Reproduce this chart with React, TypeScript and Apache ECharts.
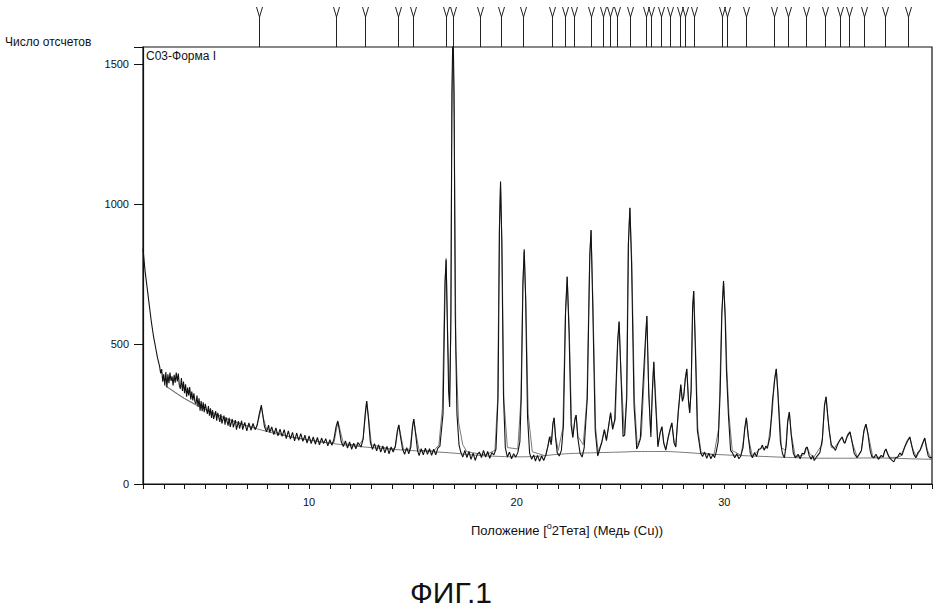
import React, { useEffect, useRef } from "react";
import * as echarts from "echarts";

const reflections = [7.61, 11.3, 12.7, 14.28, 15.0, 16.58, 16.92, 18.21, 19.22, 20.32, 21.71, 22.34, 22.77, 23.58, 24.16, 24.49, 24.83, 25.45, 26.22, 26.46, 26.94, 27.37, 27.85, 28.09, 28.52, 29.91, 30.11, 31.02, 32.41, 33.08, 33.94, 34.85, 35.57, 36.01, 36.72, 37.73, 38.83];

const background = [[3.1,350],[4,305],[5,266],[6,234],[7,208],[8,187],[9,170],[10,157],[11,146],[12,137],[13,130],[14,124],[15,119],[16,115],[17,110],[18,103],[19,99],[20,97],[21,99],[22,106],[23,110],[24,112],[25,114],[26,116],[27,116],[28,113],[29,108],[30,104],[31,101],[32,98],[33,95],[34,93],[35,92],[36,92],[37,93],[38,92],[39,90],[40,88]];

const calculated = [[3.1,350],[4,305],[5,266],[6,234],[7,208],[7.45,200],[7.6,240],[7.7,275],[7.8,235],[7.95,196],[9,170],[10,157],[11,146],[11.2,148],[11.33,200],[11.4,222],[11.5,190],[11.65,144],[12.4,138],[12.6,160],[12.72,250],[12.78,295],[12.86,240],[13.0,140],[14,124],[14.15,130],[14.27,190],[14.32,210],[14.4,180],[14.55,123],[14.85,124],[14.98,200],[15.04,232],[15.12,190],[15.3,120],[16.0,118],[16.25,140],[16.42,270],[16.53,700],[16.6,805],[16.68,520],[16.76,300],[16.82,520],[16.87,1300],[16.93,1600],[16.99,1300],[17.07,480],[17.2,220],[17.4,140],[17.6,115],[18.5,104],[18.95,120],[19.08,300],[19.16,900],[19.22,1075],[19.29,850],[19.38,300],[19.55,130],[20.05,125],[20.2,300],[20.29,700],[20.36,830],[20.44,650],[20.55,250],[20.75,115],[21.4,100],[21.55,150],[21.62,170],[21.68,150],[21.75,220],[21.8,236],[21.87,170],[22.0,120],[22.22,200],[22.34,600],[22.43,740],[22.53,550],[22.64,220],[22.7,170],[22.82,240],[22.86,246],[22.95,170],[23.2,140],[23.38,300],[23.51,800],[23.58,905],[23.67,650],[23.8,200],[23.92,115],[24.1,150],[24.22,195],[24.32,160],[24.42,200],[24.52,255],[24.62,200],[24.75,230],[24.86,500],[24.93,580],[25.02,400],[25.18,180],[25.28,300],[25.37,850],[25.45,985],[25.54,800],[25.67,300],[25.8,140],[26.0,170],[26.15,400],[26.26,600],[26.36,330],[26.45,190],[26.6,435],[26.7,300],[26.8,140],[26.92,190],[27.0,205],[27.08,150],[27.18,125],[27.35,180],[27.47,218],[27.58,150],[27.66,135],[27.78,250],[27.9,355],[27.98,300],[28.04,312],[28.12,380],[28.19,410],[28.27,300],[28.33,255],[28.4,330],[28.47,620],[28.53,688],[28.61,500],[28.72,200],[28.88,112],[29.5,104],[29.73,200],[29.87,600],[29.96,725],[30.05,600],[30.12,410],[30.22,250],[30.38,120],[30.8,102],[30.95,170],[31.06,236],[31.17,160],[31.35,100],[31.8,130],[31.95,125],[32.1,140],[32.3,250],[32.42,380],[32.5,410],[32.58,330],[32.75,130],[32.95,120],[33.05,230],[33.13,257],[33.22,180],[33.42,96],[33.85,105],[33.98,132],[34.1,110],[34.3,95],[34.7,140],[34.84,290],[34.9,311],[34.98,240],[35.15,130],[35.3,128],[35.5,150],[35.67,168],[35.79,145],[35.95,180],[36.05,186],[36.15,150],[36.4,96],[36.6,120],[36.75,200],[36.82,214],[36.92,180],[37.15,96],[37.6,95],[37.78,125],[37.95,95],[38.3,95],[38.5,100],[38.8,155],[38.93,168],[39.05,130],[39.25,95],[39.5,130],[39.65,164],[39.78,120],[39.95,93]];

const observed = [[2.0,840],[2.05,800],[2.1,760],[2.2,700],[2.3,640],[2.4,580],[2.5,530],[2.6,490],[2.7,450],[2.8,420],[2.85,395],[2.9,410],[2.95,365],[3.0,392],[3.05,352],[3.1,400],[3.15,345],[3.2,392],[3.25,360],[3.3,398],[3.35,368],[3.4,384],[3.45,352],[3.5,390],[3.55,362],[3.6,398],[3.65,366],[3.7,394],[3.75,352],[3.8,340],[3.85,378],[3.9,332],[3.95,366],[4.0,324],[4.05,356],[4.1,312],[4.15,344],[4.2,316],[4.25,346],[4.3,302],[4.35,330],[4.4,298],[4.45,324],[4.5,294],[4.55,286],[4.6,316],[4.65,276],[4.7,306],[4.75,262],[4.8,296],[4.85,260],[4.9,292],[4.95,256],[5.0,286],[5.1,250],[5.15,278],[5.2,244],[5.25,270],[5.3,236],[5.35,264],[5.4,232],[5.5,260],[5.55,226],[5.6,254],[5.7,222],[5.75,250],[5.8,216],[5.9,244],[5.95,212],[6.0,238],[6.1,208],[6.15,236],[6.2,204],[6.3,232],[6.35,202],[6.45,228],[6.5,194],[6.6,224],[6.65,198],[6.75,226],[6.8,194],[6.9,220],[7.0,190],[7.1,218],[7.2,192],[7.3,216],[7.4,194],[7.5,210],[7.6,250],[7.7,282],[7.78,240],[7.85,205],[7.95,186],[8.05,210],[8.1,184],[8.2,204],[8.3,176],[8.4,200],[8.5,172],[8.6,196],[8.7,170],[8.8,194],[8.9,162],[9.0,190],[9.1,160],[9.2,184],[9.3,154],[9.4,182],[9.5,156],[9.6,180],[9.7,152],[9.8,174],[9.9,146],[10.0,172],[10.1,144],[10.2,168],[10.3,142],[10.4,166],[10.5,140],[10.6,164],[10.7,144],[10.8,162],[10.9,136],[11.0,158],[11.1,138],[11.2,162],[11.3,205],[11.38,225],[11.45,195],[11.55,150],[11.65,134],[11.75,154],[11.85,128],[11.95,150],[12.05,124],[12.15,146],[12.25,126],[12.35,148],[12.5,132],[12.6,160],[12.7,250],[12.77,296],[12.85,240],[12.95,150],[13.05,124],[13.15,144],[13.25,118],[13.35,140],[13.45,114],[13.55,136],[13.65,111],[13.75,134],[13.85,108],[13.95,132],[14.05,114],[14.15,134],[14.25,190],[14.32,211],[14.4,170],[14.5,125],[14.6,106],[14.7,130],[14.8,108],[14.9,132],[14.98,205],[15.04,232],[15.12,185],[15.22,120],[15.3,101],[15.4,126],[15.5,104],[15.6,128],[15.7,106],[15.8,126],[15.9,102],[16.0,124],[16.1,104],[16.2,128],[16.3,135],[16.45,250],[16.55,720],[16.6,800],[16.65,600],[16.72,330],[16.77,275],[16.83,600],[16.88,1400],[16.93,1650],[16.98,1400],[17.04,600],[17.12,250],[17.22,140],[17.3,115],[17.4,96],[17.5,120],[17.6,94],[17.7,116],[17.8,88],[17.9,110],[18.0,84],[18.1,106],[18.2,114],[18.3,94],[18.4,120],[18.5,96],[18.6,116],[18.7,92],[18.8,112],[18.9,104],[19.0,125],[19.1,310],[19.17,920],[19.22,1080],[19.28,870],[19.36,320],[19.45,130],[19.55,96],[19.65,114],[19.75,90],[19.85,108],[19.95,96],[20.05,112],[20.15,150],[20.22,320],[20.3,720],[20.36,838],[20.43,660],[20.52,240],[20.62,110],[20.72,88],[20.82,104],[20.9,82],[21.0,102],[21.1,81],[21.2,100],[21.3,84],[21.4,104],[21.5,135],[21.58,168],[21.66,140],[21.74,215],[21.8,236],[21.87,165],[21.95,112],[22.05,100],[22.15,120],[22.25,210],[22.35,610],[22.43,740],[22.52,540],[22.62,210],[22.7,165],[22.8,230],[22.86,246],[22.94,165],[23.05,110],[23.15,96],[23.25,130],[23.4,310],[23.52,820],[23.58,907],[23.66,640],[23.78,190],[23.9,100],[24.0,125],[24.1,150],[24.22,193],[24.32,155],[24.42,205],[24.52,254],[24.62,195],[24.72,230],[24.86,510],[24.93,579],[25.02,390],[25.12,170],[25.2,175],[25.3,310],[25.38,860],[25.45,986],[25.53,790],[25.65,280],[25.78,125],[25.86,139],[25.95,160],[26.1,380],[26.2,520],[26.27,600],[26.36,320],[26.46,168],[26.53,330],[26.6,436],[26.68,300],[26.8,132],[26.9,180],[26.99,204],[27.08,145],[27.18,121],[27.3,170],[27.4,200],[27.47,218],[27.58,145],[27.66,132],[27.78,260],[27.9,354],[27.98,295],[28.04,311],[28.12,375],[28.19,411],[28.27,300],[28.33,254],[28.4,340],[28.47,630],[28.52,689],[28.6,490],[28.7,190],[28.86,111],[28.95,98],[29.05,114],[29.15,92],[29.25,110],[29.35,90],[29.45,106],[29.53,94],[29.6,112],[29.7,150],[29.8,330],[29.88,610],[29.96,725],[30.04,590],[30.1,407],[30.2,240],[30.3,120],[30.39,111],[30.5,94],[30.6,108],[30.7,90],[30.78,98],[30.9,130],[30.98,200],[31.06,236],[31.15,170],[31.25,110],[31.35,94],[31.45,112],[31.55,98],[31.65,124],[31.75,126],[31.83,139],[31.92,120],[32.0,136],[32.07,127],[32.2,170],[32.32,300],[32.42,370],[32.5,411],[32.58,320],[32.7,150],[32.8,108],[32.89,94],[32.98,140],[33.05,220],[33.13,257],[33.22,175],[33.32,110],[33.42,94],[33.55,106],[33.65,90],[33.75,110],[33.85,108],[33.92,128],[33.99,132],[34.08,103],[34.18,88],[34.25,102],[34.33,84],[34.45,98],[34.6,112],[34.72,160],[34.82,280],[34.9,311],[34.97,250],[35.05,190],[35.15,140],[35.24,132],[35.35,120],[35.45,140],[35.55,155],[35.67,168],[35.75,150],[35.81,146],[35.92,170],[36.05,186],[36.15,150],[36.25,110],[36.39,94],[36.5,106],[36.6,120],[36.72,190],[36.82,214],[36.92,175],[37.02,120],[37.1,98],[37.2,94],[37.3,106],[37.42,88],[37.55,102],[37.65,96],[37.72,118],[37.78,125],[37.86,108],[37.95,94],[38.05,86],[38.16,79],[38.25,94],[38.35,96],[38.45,111],[38.55,102],[38.68,130],[38.8,150],[38.93,168],[39.03,135],[39.12,106],[39.22,94],[39.32,112],[39.42,120],[39.52,140],[39.65,164],[39.74,125],[39.82,100],[39.9,93],[40.0,95]];

const yTicks = [0, 500, 1000, 1500];
const xLabels = [10, 20, 30];

const FONT = "Liberation Sans, Arial, sans-serif";

export default function App() {
  const ref = useRef<HTMLDivElement>(null);
  useEffect(() => {
    if (!ref.current) return;
    const chart = echarts.init(ref.current, null, { renderer: "svg" });
    chart.setOption({
      animation: false,
      backgroundColor: "#fff",
      textStyle: { fontFamily: FONT },
      grid: [
        { left: 143, right: 8, top: 47, bottom: 125, show: true, borderColor: "#111", borderWidth: 1.2, backgroundColor: "transparent" },
        { left: 143, right: 8, top: 5, height: 42, show: false },
      ],
      xAxis: [
        {
          gridIndex: 0, type: "value", min: 2, max: 40, interval: 1,
          axisLine: { lineStyle: { color: "#111", width: 1.2 } },
          axisTick: { inside: false, length: 5, lineStyle: { color: "#111" } },
          axisLabel: {
            color: "#111", fontSize: 11, margin: 12, fontFamily: FONT,
            formatter: (v: number) => (xLabels.includes(v) ? String(v) : ""),
          },
          splitLine: { show: false },
        },
        { gridIndex: 1, type: "value", min: 2, max: 40, show: false },
      ],
      yAxis: [
        {
          gridIndex: 0, type: "value", min: 0, max: 1560, interval: 500,
          axisLine: { show: true, lineStyle: { color: "#111", width: 1.2 } },
          axisTick: { show: true, inside: false, length: 9, lineStyle: { color: "#111" } },
          axisLabel: {
            color: "#111", fontSize: 11, margin: 14, fontFamily: FONT,
            formatter: (v: number) => (yTicks.includes(v) ? String(v) : ""),
          },
          splitLine: { show: false },
        },
        { gridIndex: 1, type: "value", min: 0, max: 1, show: false },
      ],
      series: [
        {
          type: "line", xAxisIndex: 0, yAxisIndex: 0, data: background, showSymbol: false, smooth: true,
          lineStyle: { color: "#555", width: 0.8 }, z: 2,
        },
        {
          type: "line", xAxisIndex: 0, yAxisIndex: 0, data: calculated, showSymbol: false,
          lineStyle: { color: "#7a7a7a", width: 1 }, z: 3,
        },
        {
          type: "line", xAxisIndex: 0, yAxisIndex: 0, data: observed, showSymbol: false,
          lineStyle: { color: "#111", width: 1.1 }, z: 4,
        },
        {
          type: "custom", xAxisIndex: 1, yAxisIndex: 1, data: reflections.map((r) => [r]),
          renderItem: (params: any, api: any) => {
            const x = api.value(0);
            const bottom = api.coord([x, 0]);
            const top = api.coord([x, 1]);
            const px = Math.round(bottom[0]) + 0.5;
            const yb = bottom[1];
            const yt = top[1];
            return {
              type: "group",
              children: [
                { type: "line", shape: { x1: px, y1: yb, x2: px, y2: yt + 12 }, style: { stroke: "#222", lineWidth: 1 } },
                { type: "polyline", shape: { points: [[px - 3, yt + 2], [px, yt + 12], [px + 3, yt + 2]] }, style: { stroke: "#222", lineWidth: 1, fill: "none" } },
              ],
            };
          },
          z: 5,
        },
      ],
      graphic: [
        { type: "text", left: 5, top: 36, style: { text: "Число отсчетов", fontSize: 12, fontFamily: FONT, fill: "#111" } },
        { type: "text", left: 146, top: 50, style: { text: "C03-Форма I", fontSize: 12, fontFamily: FONT, fill: "#111" } },
        {
          type: "text", x: 567, y: 530,
          style: {
            text: "Положение [{sup|o}2Тета] (Медь (Cu))",
            rich: { sup: { fontSize: 9, verticalAlign: "top", padding: [0, 0, 8, 0], fontFamily: FONT, fill: "#111" } },
            fontSize: 13, fontFamily: FONT, fill: "#111", align: "center", verticalAlign: "middle",
          },
        },
        { type: "text", x: 451, y: 592, style: { text: "ФИГ.1", fontSize: 30, fontFamily: FONT, fill: "#111", align: "center", verticalAlign: "middle" } },
      ],
    });
    return () => chart.dispose();
  }, []);
  return <div ref={ref} style={{ position: "absolute", left: 0, top: 0, width: 940, height: 609 }} />;
}
